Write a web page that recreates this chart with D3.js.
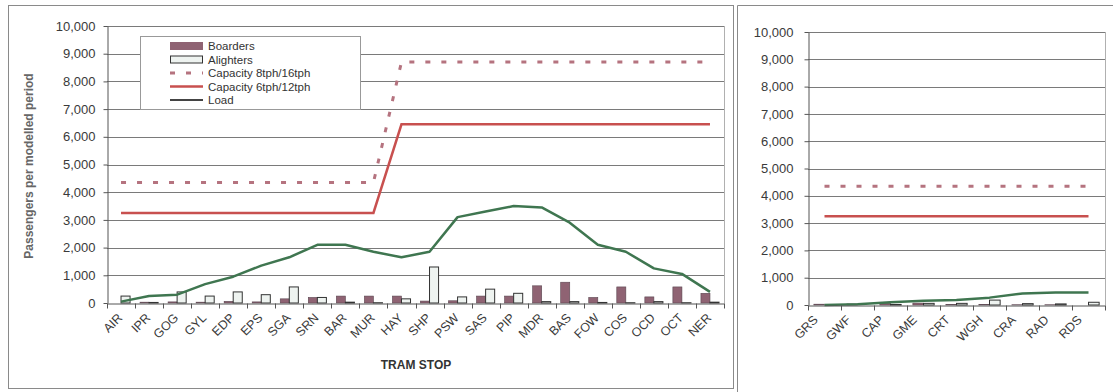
<!DOCTYPE html>
<html>
<head>
<meta charset="utf-8">
<script src="https://cdn.jsdelivr.net/npm/d3@7"></script>
<style>
  body { margin: 0; background: #fff; }
  svg { font-family: Arial, "Liberation Sans", sans-serif; }
</style>
</head>
<body>
<svg id="chart" width="1113" height="392"></svg>
<script>
// ---- data ----
const yTicks = [0, 1000, 2000, 3000, 4000, 5000, 6000, 7000, 8000, 9000, 10000];

const leftStops = ["AIR", "IPR", "GOG", "GYL", "EDP", "EPS", "SGA", "SRN", "BAR", "MUR", "HAY",
                   "SHP", "PSW", "SAS", "PIP", "MDR", "BAS", "FOW", "COS", "OCD", "OCT", "NER"];
const leftBoarders  = [0, 30, 40, 30, 60, 40, 150, 200, 250, 250, 250, 70, 80, 250, 250, 620, 750, 200, 580, 220, 580, 350];
const leftAlighters = [250, 20, 400, 250, 400, 300, 580, 200, 30, 10, 150, 1300, 220, 500, 350, 50, 50, 20, 10, 50, 10, 30];
const leftLoad      = [50, 250, 300, 680, 950, 1350, 1650, 2100, 2100, 1850, 1650, 1850, 3100, 3300, 3500, 3450, 2900, 2100, 1850, 1250, 1050, 400];
const leftCap6      = [3250, 3250, 3250, 3250, 3250, 3250, 3250, 3250, 3250, 3250, 6450,
                       6450, 6450, 6450, 6450, 6450, 6450, 6450, 6450, 6450, 6450, 6450];
const leftCap8      = [4350, 4350, 4350, 4350, 4350, 4350, 4350, 4350, 4350, 4350, 8700,
                       8700, 8700, 8700, 8700, 8700, 8700, 8700, 8700, 8700, 8700, 8700];

const rightStops = ["GRS", "GWF", "CAP", "GME", "CRT", "WGH", "CRA", "RAD", "RDS"];
const rightBoarders  = [30, 40, 80, 70, 20, 20, 10, 10, 0];
const rightAlighters = [0, 0, 20, 60, 60, 180, 50, 40, 100];
const rightLoad      = [0, 30, 100, 160, 180, 270, 420, 460, 460];
const rightCap6      = [3250, 3250, 3250, 3250, 3250, 3250, 3250, 3250, 3250];
const rightCap8      = [4350, 4350, 4350, 4350, 4350, 4350, 4350, 4350, 4350];

const seriesNames = ["Boarders", "Alighters", "Capacity 8tph/16tph", "Capacity 6tph/12tph", "Load"];

// colours
const BOARD = "#8f6373", ALIGHT = "#eef3f0", CAP6 = "#c8504f", CAP8 = "#b5737f", LOAD = "#3f7650", GRID = "#7a7a7a";

const svg = d3.select("#chart");

// outer frames of the two pasted charts
svg.append("rect").attr("x", 8.5).attr("y", 5.5).attr("width", 725).attr("height", 383)
    .attr("fill", "none").attr("stroke", "#8a8a8a");
svg.append("path").attr("d", "M737.5,392V5.5H1113")
    .attr("fill", "none").attr("stroke", "#8a8a8a");

function drawPanel(cfg) {
    const g = svg.append("g");
    const x = d3.scaleBand().domain(cfg.stops).range([cfg.x0, cfg.x1]);
    const y = d3.scaleLinear().domain([0, 10000]).range([cfg.y0, cfg.y1]);
    const sub = d3.scaleBand().domain(["b", "a"]).range([0, x.bandwidth()])
        .paddingInner(0).paddingOuter(0.55);
    const cx = d => x(d) + x.bandwidth() / 2;

    // gridlines
    g.append("g").selectAll("line")
        .data(yTicks.filter(d => d > 0))
        .join("line")
        .attr("x1", cfg.x0).attr("x2", cfg.x1)
        .attr("y1", d => Math.round(y(d)) + 0.5).attr("y2", d => Math.round(y(d)) + 0.5)
        .attr("stroke", GRID).attr("stroke-width", 1);

    // right border of plot area
    g.append("line")
        .attr("x1", cfg.x1 + 0.5).attr("x2", cfg.x1 + 0.5)
        .attr("y1", y(10000)).attr("y2", y(0))
        .attr("stroke", "#b0b0b0");

    // bars
    const rows = cfg.stops.map((s, i) => ({stop: s, b: cfg.boarders[i], a: cfg.alighters[i]}));
    g.append("g").selectAll("rect")
        .data(rows)
        .join("rect")
        .attr("x", d => x(d.stop) + sub("b"))
        .attr("width", sub.bandwidth())
        .attr("y", d => y(d.b))
        .attr("height", d => y(0) - y(d.b))
        .attr("fill", BOARD)
        .attr("stroke", "#5a4650").attr("stroke-width", 0.6);
    g.append("g").selectAll("rect")
        .data(rows)
        .join("rect")
        .attr("x", d => x(d.stop) + sub("a"))
        .attr("width", sub.bandwidth())
        .attr("y", d => y(d.a))
        .attr("height", d => y(0) - y(d.a))
        .attr("fill", ALIGHT)
        .attr("stroke", "#333").attr("stroke-width", 1);

    // lines
    const line = d3.line().x((d, i) => cx(cfg.stops[i])).y(d => y(d));
    g.append("path").datum(cfg.cap8).attr("d", line)
        .attr("fill", "none").attr("stroke", CAP8).attr("stroke-width", 3)
        .attr("stroke-dasharray", "5,11");
    g.append("path").datum(cfg.cap6).attr("d", line)
        .attr("fill", "none").attr("stroke", CAP6).attr("stroke-width", 2.5);
    g.append("path").datum(cfg.load).attr("d", line)
        .attr("fill", "none").attr("stroke", LOAD).attr("stroke-width", 2.5)
        .attr("stroke-linejoin", "round");

    // y axis
    const yAxis = d3.axisLeft(y).tickValues(yTicks).tickFormat(d3.format(","))
        .tickSize(4).tickPadding(cfg.yPad).tickSizeOuter(0);
    const yg = g.append("g").attr("transform", `translate(${cfg.x0 + 0.5},0)`).call(yAxis);
    yg.select(".domain").attr("stroke", "#555");
    yg.selectAll(".tick line").attr("stroke", "#555");
    yg.selectAll("text").attr("font-size", 13).attr("fill", "#3a3a3a")
        .attr("font-family", "Arial, 'Liberation Sans', sans-serif");

    // x axis: ticks sit on the category boundaries
    const xAxis = d3.axisBottom(x).tickSize(0).tickPadding(0).tickSizeOuter(0);
    const xg = g.append("g").attr("transform", `translate(0,${Math.round(cfg.y0) + 0.5})`).call(xAxis);
    xg.select(".domain").attr("stroke", "#555");
    xg.selectAll("text")
        .attr("x", 0).attr("y", 0).attr("dy", "0.35em")
        .attr("transform", `translate(${cfg.labelShift},12) rotate(-45)`)
        .style("text-anchor", "end")
        .attr("font-size", 12.5).attr("fill", "#3a3a3a")
        .attr("font-family", "Arial, 'Liberation Sans', sans-serif");
    xg.selectAll(".boundary")
        .data(cfg.stops.map(s => x(s)).concat([cfg.x1]))
        .join("line")
        .attr("class", "boundary")
        .attr("x1", d => Math.round(d) + 0.5).attr("x2", d => Math.round(d) + 0.5)
        .attr("y1", 0).attr("y2", 5)
        .attr("stroke", "#555");

    return {x, y};
}

// left panel
drawPanel({
    stops: leftStops, boarders: leftBoarders, alighters: leftAlighters,
    load: leftLoad, cap6: leftCap6, cap8: leftCap8,
    x0: 107, x1: 724, y0: 303, y1: 26, yPad: 8, labelShift: -1
});

// right panel
drawPanel({
    stops: rightStops, boarders: rightBoarders, alighters: rightAlighters,
    load: rightLoad, cap6: rightCap6, cap8: rightCap8,
    x0: 808, x1: 1105, y0: 305, y1: 32, yPad: 11, labelShift: -9
});

// axis titles of the left panel
svg.append("text")
    .attr("transform", "translate(33,166) rotate(-90)")
    .attr("text-anchor", "middle")
    .attr("font-size", 12).attr("font-weight", "bold").attr("fill", "#666")
    .text("Passengers per modelled period");
svg.append("text")
    .attr("x", 416).attr("y", 369)
    .attr("text-anchor", "middle")
    .attr("font-size", 12).attr("font-weight", "bold").attr("fill", "#333")
    .text("TRAM STOP");

// legend
const legend = svg.append("g").attr("transform", "translate(140,36)");
legend.append("rect").attr("x", 0.5).attr("y", 0.5).attr("width", 220).attr("height", 73)
    .attr("fill", "#fff").attr("stroke", "#999");
const rowY = d3.scalePoint().domain(seriesNames).range([10, 64]);
const items = legend.selectAll(".item").data(seriesNames).join("g")
    .attr("class", "item")
    .attr("transform", d => `translate(0,${rowY(d)})`);
items.append("text")
    .attr("x", 68).attr("dy", "0.35em")
    .attr("font-size", 11.5).attr("fill", "#333")
    .text(d => d);
items.filter(d => d === "Boarders").append("rect")
    .attr("x", 30).attr("y", -4).attr("width", 33).attr("height", 8).attr("fill", BOARD);
items.filter(d => d === "Alighters").append("rect")
    .attr("x", 30.5).attr("y", -3.5).attr("width", 32).attr("height", 7)
    .attr("fill", ALIGHT).attr("stroke", "#333");
items.filter(d => d === "Capacity 8tph/16tph").append("line")
    .attr("x1", 30).attr("x2", 63).attr("stroke", CAP8).attr("stroke-width", 3)
    .attr("stroke-dasharray", "5,11");
items.filter(d => d === "Capacity 6tph/12tph").append("line")
    .attr("x1", 30).attr("x2", 63).attr("stroke", CAP6).attr("stroke-width", 2.5);
items.filter(d => d === "Load").append("line")
    .attr("x1", 30).attr("x2", 63).attr("stroke", "#444").attr("stroke-width", 2);
</script>
</body>
</html>
